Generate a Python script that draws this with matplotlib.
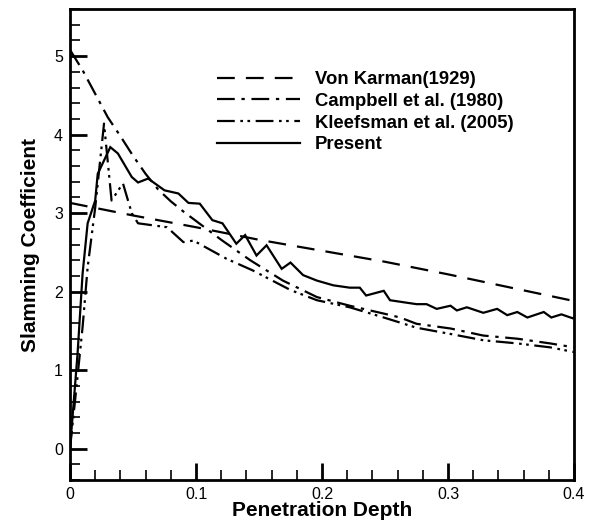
import matplotlib
matplotlib.use("Agg")
import matplotlib.pyplot as plt
from matplotlib.ticker import MultipleLocator

plt.rcParams['font.family'] = ['Liberation Sans', 'DejaVu Sans']

# Von Karman (1929)
vk_x = [0.0, 0.05, 0.10, 0.15, 0.20, 0.25, 0.30, 0.35, 0.40]
vk_y = [3.13, 2.97, 2.82, 2.66, 2.52, 2.38, 2.22, 2.05, 1.88]

# Campbell et al. (1980)
cb_x = [0.0, 0.01, 0.02, 0.03, 0.04, 0.05, 0.06, 0.07, 0.08, 0.09, 0.10,
        0.12, 0.143, 0.169, 0.196, 0.222, 0.249, 0.262, 0.275, 0.302,
        0.328, 0.355, 0.381, 0.40]
cb_y = [5.08, 4.82, 4.52, 4.22, 3.98, 3.73, 3.50, 3.30, 3.15, 3.02, 2.90,
        2.66, 2.40, 2.14, 1.93, 1.82, 1.72, 1.67, 1.59, 1.53,
        1.44, 1.40, 1.34, 1.29]

# Kleefsman et al. (2005)
kf_x = [0.0, 0.004, 0.010, 0.014, 0.020, 0.027, 0.033, 0.042, 0.049, 0.054,
        0.077, 0.090, 0.098, 0.124, 0.145, 0.175, 0.196, 0.222, 0.249,
        0.275, 0.302, 0.328, 0.355, 0.381, 0.40]
kf_y = [0.0, 0.61, 1.55, 2.31, 3.07, 4.14, 3.16, 3.38, 3.00, 2.87,
        2.82, 2.63, 2.65, 2.42, 2.27, 2.02, 1.89, 1.80, 1.67,
        1.54, 1.46, 1.38, 1.34, 1.29, 1.23]

# Present
pr_x = [0.0, 0.006, 0.010, 0.014, 0.020, 0.022, 0.032, 0.038, 0.049, 0.054,
        0.062, 0.075, 0.086, 0.094, 0.103, 0.113, 0.121, 0.132, 0.139,
        0.148, 0.156, 0.168, 0.175, 0.185, 0.196, 0.209, 0.222, 0.230,
        0.235, 0.249, 0.254, 0.275, 0.283, 0.291, 0.302, 0.307, 0.315,
        0.328, 0.339, 0.347, 0.355, 0.363, 0.376, 0.382, 0.390, 0.399, 0.40]
pr_y = [0.0, 1.21, 2.23, 2.87, 3.16, 3.50, 3.84, 3.76, 3.46, 3.39,
        3.44, 3.29, 3.25, 3.13, 3.12, 2.91, 2.87, 2.61, 2.72,
        2.46, 2.59, 2.29, 2.37, 2.21, 2.14, 2.08, 2.05, 2.05,
        1.95, 2.01, 1.89, 1.84, 1.84, 1.78, 1.82, 1.76, 1.80,
        1.73, 1.78, 1.70, 1.74, 1.67, 1.74, 1.67, 1.71, 1.66, 1.67]

labels = ["Von Karman(1929)", "Campbell et al. (1980)",
          "Kleefsman et al. (2005)", "Present"]

fig = plt.figure(figsize=(5.94, 5.28), dpi=100)
ax = fig.add_axes([70 / 594, 1 - 480 / 528, 504 / 594, 471 / 528])

lw = 1.6
ax.plot(vk_x, vk_y, color='black', lw=lw, dashes=(8, 5), label=labels[0])
ax.plot(cb_x, cb_y, color='black', lw=lw, dashes=(8, 3, 1.5, 3), label=labels[1])
ax.plot(kf_x, kf_y, color='black', lw=lw,
        dashes=(8, 2.5, 1.2, 2, 1.2, 2.5), label=labels[2])
ax.plot(pr_x, pr_y, color='black', lw=lw, solid_joinstyle='miter',
        label=labels[3])

ax.set_xlim(0, 0.4)
ax.set_ylim(-0.4, 5.6)
ax.xaxis.set_major_locator(MultipleLocator(0.1))
ax.xaxis.set_minor_locator(MultipleLocator(0.02))
ax.yaxis.set_major_locator(MultipleLocator(1))
ax.yaxis.set_minor_locator(MultipleLocator(0.2))
ax.set_xticks([0, 0.1, 0.2, 0.3, 0.4])
ax.set_xticklabels(['0', '0.1', '0.2', '0.3', '0.4'])

ax.tick_params(which='both', direction='in', top=False, right=False,
               labelsize=11.5, width=1.5, pad=5)
ax.tick_params(which='major', length=12, width=2)
ax.tick_params(which='minor', length=7, width=1.2)
for s in ax.spines.values():
    s.set_linewidth(2)

ax.set_xlabel("Penetration Depth", fontsize=15, fontweight='bold', labelpad=-1)
ax.set_ylabel("Slamming Coefficient", fontsize=15, fontweight='bold', labelpad=10)

leg = ax.legend(loc='upper left', bbox_to_anchor=(0.274, 0.888), frameon=False,
                prop={'size': 13.3, 'weight': 'bold'}, handlelength=4.5,
                handletextpad=0.8, labelspacing=0.26, borderpad=0)

fig.savefig("out.png", dpi=100)
